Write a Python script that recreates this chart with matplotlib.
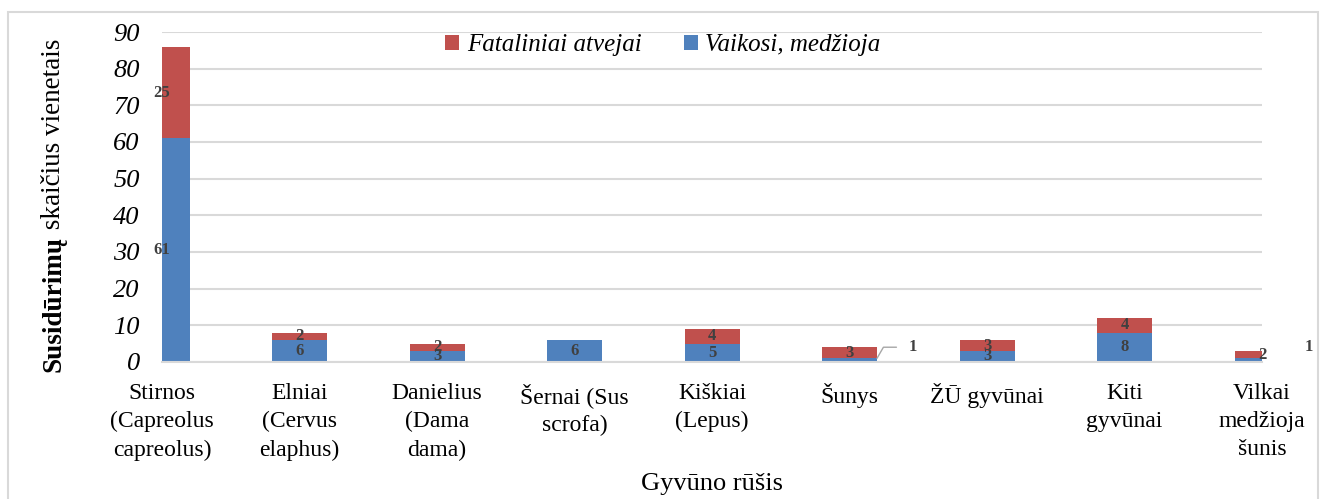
import numpy as np
import matplotlib
matplotlib.use('Agg')
from matplotlib import pyplot as plt
from matplotlib.patches import Rectangle

# data
categories = ['Stirnos\n(Capreolus\ncapreolus)', 'Elniai\n(Cervus\nelaphus)', 'Danielius\n(Dama\ndama)',
              'Šernai (Sus\nscrofa)', 'Kiškiai\n(Lepus)', 'Šunys', 'ŽŪ gyvūnai', 'Kiti\ngyvūnai',
              'Vilkai\nmedžioja\nšunis']
vaikosi = [61, 6, 3, 6, 5, 1, 3, 8, 1]
fataliniai = [25, 2, 2, 0, 4, 3, 3, 4, 2]
outside_labels = [5, 8]  # blue labels drawn outside the bar

plt.rcParams['font.family'] = ['Liberation Serif', 'DejaVu Serif']

blue = '#4F81BD'
red = '#C0504D'
grid = '#d9d9d9'
lab = '#404040'

fig = plt.figure(figsize=(13.32, 4.99), dpi=100)
fig.patches.append(Rectangle((8 / 1332, -0.05), 1310 / 1332, (499 - 12) / 499 + 0.05,
                             transform=fig.transFigure, fill=False, edgecolor=grid, lw=1.5))

ax = fig.add_axes([162 / 1332, 137 / 499, 1100 / 1332, 330 / 499])
x = np.arange(len(categories))
w = 0.4
b1 = ax.bar(x, vaikosi, w, color=blue, zorder=2, label='Vaikosi, medžioja')
b2 = ax.bar(x, fataliniai, w, bottom=vaikosi, color=red, zorder=2, label='Fataliniai atvejai')

ax.set_xlim(0, len(categories) - 1)
ax.set_ylim(0, 90)
ax.set_yticks(np.arange(0, 91, 10))
ax.grid(axis='y', color=grid, lw=1.5, zorder=0)
for s in ['top', 'right', 'left']:
    ax.spines[s].set_visible(False)
ax.spines['bottom'].set_color(grid)
ax.spines['bottom'].set_linewidth(1.5)
ax.tick_params(axis='both', length=0)
ax.tick_params(axis='y', pad=16, labelsize=19)
ax.tick_params(axis='x', pad=15, labelsize=17)
for t in ax.get_yticklabels():
    t.set_style('italic')
ax.set_xticks(x)
ax.set_xticklabels(categories, linespacing=1.45, family=['Liberation Serif'])

# value labels, centred in each segment
lbl = dict(fontsize=12, fontweight='bold', color=lab)
for i in range(len(categories)):
    if i not in outside_labels:
        ax.text(x[i], vaikosi[i] / 2, str(vaikosi[i]), ha='center', va='center', zorder=3, **lbl)
    if fataliniai[i]:
        ax.text(x[i], vaikosi[i] + fataliniai[i] / 2, str(fataliniai[i]), ha='center', va='center',
                zorder=3, **lbl)

# outside labels
ax.annotate(str(vaikosi[5]), xy=(x[5] + w / 2, vaikosi[5]), xytext=(23, 8), textcoords='offset points',
            ha='left', va='center', annotation_clip=False,
            arrowprops=dict(arrowstyle='-', color='#a6a6a6', lw=1, shrinkA=7, shrinkB=0,
                            connectionstyle='angle,angleA=0,angleB=60,rad=0'), **lbl)
ax.annotate(str(vaikosi[8]), xy=(x[8] + w / 2, vaikosi[8]), xytext=(11, 8), textcoords='offset points',
            ha='left', va='center', annotation_clip=False, **lbl)

leg = ax.legend(handles=[b2, b1], loc='center left', bbox_to_anchor=(423 / 1332, 1 - 45 / 499),
                bbox_transform=fig.transFigure, ncol=2, frameon=False,
                prop={'family': ['Liberation Serif'], 'style': 'italic', 'size': 18},
                handlelength=0.55, handleheight=0.55, handletextpad=0.3, columnspacing=1.7)

ylab1 = fig.text(54 / 1332, 1 - 372 / 499, 'Susidūrimų', rotation=90, ha='center', va='bottom',
                 fontsize=19.5, fontweight='bold')
ax.annotate(' skaičius vienetais', xy=(0.5, 1), xycoords=ylab1, rotation=90, ha='center', va='bottom',
            fontsize=19.5)

fig.text(712 / 1332, 1 - 484 / 499, 'Gyvūno rūšis', ha='center', va='center', fontsize=19)

fig.savefig('out.png', dpi=100)
